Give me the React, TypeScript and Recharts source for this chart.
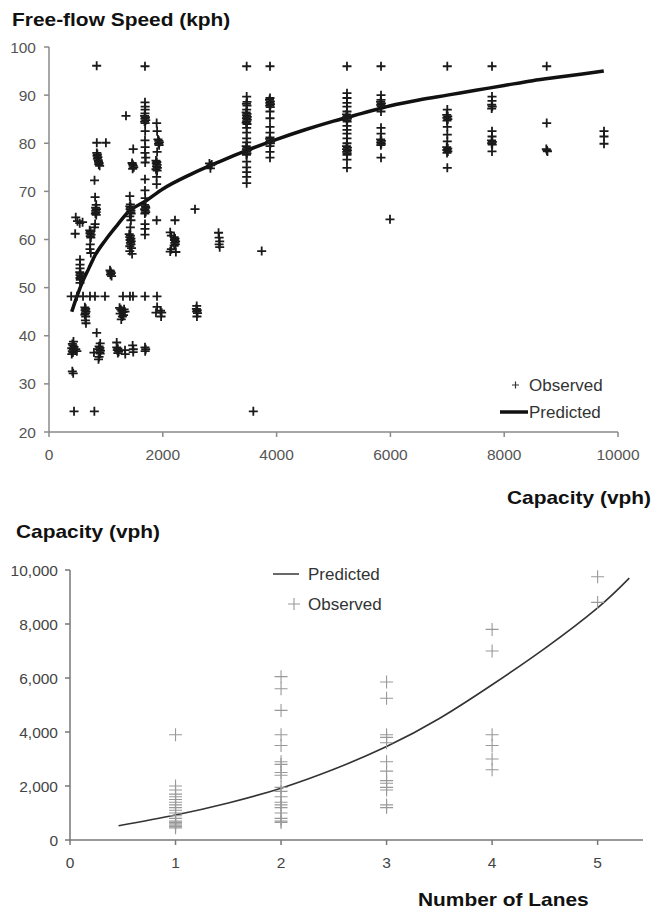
import { ComposedChart, Scatter, Line, XAxis, YAxis } from 'recharts';

// Free-flow speed vs capacity: observed [capacity vph, speed kph]
const speedObserved: [number, number][] = [
  // ~400 vph
  [400, 36.2], [420, 36.5], [410, 36.8], [430, 37.1], [400, 37.4], [440, 37.7], [420, 38], [410, 38.3], [430, 38.8], [490, 36.8], [470, 37.2],
  [410, 32.6], [425, 32.2], [440, 24.3], [390, 48.2],
  [460, 61.2], [470, 64.6], [500, 63.8], [540, 63.4], [590, 63.6],
  // ~550 vph
  [545, 55.8], [545, 54.8], [545, 54], [540, 53.2], [555, 52.9], [545, 52.6], [560, 52.3], [545, 52], [550, 51.6], [545, 51],
  [492, 48.2], [598, 48.2],
  // ~640 vph
  [630, 45.9], [645, 45.6], [635, 45.3], [650, 45], [640, 44.7], [630, 44.4], [645, 44], [640, 43.2], [650, 42.6],
  // ~720 vph
  [715, 61.9], [730, 61.6], [720, 61.3], [740, 61], [725, 60.7], [735, 60.4], [725, 59], [720, 58], [735, 57.2],
  [720, 48.2], [808, 48.2], [838, 96.1],
  // ~830 vph
  [800, 72.3], [810, 68.8], [830, 67.2], [820, 66.6], [835, 66.3], [820, 66], [830, 65.7], [815, 65.4], [830, 65.1], [810, 63.2], [800, 62.5],
  [840, 78], [850, 77.7], [845, 77.4], [860, 77.1], [850, 76.8], [865, 76.5], [870, 76.2], [880, 75.9], [875, 75.6], [890, 75.3],
  [840, 80.1], [1000, 80.1],
  [838, 40.6], [790, 36.5], [880, 37.8], [895, 37.5], [885, 37.2], [905, 36.9], [890, 36.6], [900, 36.3], [880, 35.6], [870, 35.1], [900, 38.4],
  [797, 24.3], [984, 48.2],
  // ~1100 vph
  [1072, 53.6], [1085, 53.3], [1095, 53], [1080, 52.7], [1100, 52.4],
  [1190, 37.6], [1210, 37.3], [1200, 37], [1225, 36.7], [1210, 36.4], [1190, 38.6],
  [1240, 45.8], [1260, 45.5], [1280, 45.2], [1300, 44.9], [1320, 45.5], [1250, 44.6], [1310, 44.3], [1335, 45], [1290, 44], [1270, 43.4],
  [1300, 48.2], [1336, 37], [1340, 36.2], [1482, 37.2], [1470, 38], [1480, 36.6], [1353, 85.7],
  [1423, 48.2], [1476, 48.2],
  // ~1450 vph
  [1480, 78.8], [1460, 75.9], [1470, 75.6], [1480, 75.3], [1490, 75], [1470, 74.7],
  [1420, 69], [1430, 67.3], [1420, 66.9], [1435, 66.6], [1425, 66.3], [1440, 66], [1430, 65.7], [1445, 65.4], [1420, 64.8], [1440, 64], [1430, 62.5],
  [1410, 61.1], [1430, 60.8], [1420, 60.5], [1440, 60.2], [1425, 59.9], [1445, 59.6], [1430, 59.3], [1440, 59], [1420, 58.6], [1450, 58.2], [1420, 57.6], [1460, 57],
  // ~1690 vph
  [1687, 96], [1687, 88.5], [1690, 87.6], [1690, 87], [1687, 86.2], [1680, 85.7], [1695, 85.4], [1685, 85.1], [1700, 84.8], [1680, 84.5], [1690, 84.2],
  [1690, 82.5], [1687, 80.6], [1690, 79.2], [1687, 78], [1700, 77], [1690, 76], [1687, 72.5], [1687, 70.2], [1690, 68.6],
  [1680, 67.2], [1695, 66.9], [1700, 66.6], [1680, 66.3], [1690, 66], [1700, 65.7], [1685, 65.4], [1687, 63.2], [1687, 62.2], [1687, 61],
  [1687, 48.2], [1687, 37.6], [1700, 37.2], [1690, 36.8],
  // ~1900 vph
  [1892, 84.2], [1900, 82.5], [1915, 80.8], [1930, 80.5], [1940, 80.2], [1925, 79.9], [1935, 79.6], [1900, 78.2],
  [1880, 76.4], [1895, 76.1], [1885, 75.8], [1900, 75.5], [1890, 75.2], [1905, 74.9], [1880, 74.6], [1900, 74.3],
  [1892, 73], [1892, 71.5], [1892, 64], [1898, 48.2],
  [1900, 46], [1960, 45.2], [1980, 44.8], [1970, 44], [1880, 44.8],
  // ~2200 vph
  [2130, 61.5], [2150, 60.8], [2200, 60.5], [2215, 60.2], [2205, 59.9], [2225, 59.6], [2210, 59.3], [2220, 59], [2200, 58.7], [2150, 58],
  [2130, 57.5], [2214, 64], [2230, 57.4],
  // ~2600 vph
  [2566, 66.3], [2590, 45.6], [2605, 45.3], [2595, 45], [2610, 44.7], [2596, 46.2], [2600, 44],
  [2820, 75.8], [2840, 75.4], [2860, 75.6], [2837, 74.8],
  [2980, 61.4], [2990, 60.4], [3000, 59.6], [2990, 59], [3000, 58.4],
  // ~3500 vph
  [3474, 96], [3474, 89.7], [3480, 88.6], [3470, 88.2], [3480, 87.8], [3474, 87],
  [3465, 86.4], [3480, 86.1], [3470, 85.8], [3485, 85.5], [3470, 85.2], [3485, 84.9], [3475, 84.6], [3465, 84.3], [3480, 84],
  [3474, 83.2], [3474, 82.2], [3474, 81], [3474, 80.2],
  [3465, 79.4], [3480, 79.1], [3470, 78.8], [3485, 78.5], [3470, 78.2], [3480, 77.9], [3470, 77.6],
  [3474, 76.2], [3474, 75], [3474, 74], [3474, 73], [3474, 71.7],
  [3591, 24.3], [3738, 57.6],
  // ~3900 vph
  [3884, 96], [3884, 89.4], [3875, 89], [3890, 88.7], [3880, 88.4], [3892, 88.1], [3878, 87.8], [3888, 87.5], [3884, 86.6], [3884, 85.2],
  [3884, 83.4], [3884, 82.2], [3884, 81.2], [3878, 80.9], [3890, 80.6], [3880, 80.3], [3892, 80], [3884, 79.4], [3884, 78.2], [3884, 77],
  // ~5200 vph
  [5237, 96], [5237, 90.4], [5237, 89.4], [5237, 88.4], [5237, 87.6], [5237, 86.6],
  [5228, 86], [5245, 85.7], [5230, 85.4], [5245, 85.1], [5232, 84.8], [5240, 84.5], [5237, 83.6], [5237, 82.8], [5237, 82], [5237, 81], [5237, 80],
  [5228, 79.4], [5245, 79.1], [5230, 78.8], [5245, 78.5], [5232, 78.2], [5240, 77.9], [5237, 77.6], [5237, 76.6], [5237, 74.9],
  // ~5800 vph
  [5835, 96], [5835, 90], [5835, 89], [5828, 88.6], [5842, 88.3], [5830, 88], [5840, 87.7], [5835, 86.6], [5835, 83.2],
  [5835, 82], [5828, 80.8], [5842, 80.5], [5830, 80.2], [5840, 79.9], [5832, 79.6], [5835, 77],
  [5993, 64.2],
  // ~7000 vph
  [7000, 96], [7000, 87], [6990, 85.9], [7008, 85.6], [6992, 85.3], [7010, 85], [6995, 84.7], [7000, 83.4], [7000, 81.8],
  [7000, 80.4], [6990, 79.2], [7008, 78.9], [6992, 78.6], [7010, 78.3], [6995, 78], [7000, 74.9],
  // ~7800 vph
  [7786, 96], [7786, 89.7], [7786, 88.8], [7780, 88], [7790, 87.6], [7780, 87.2], [7786, 82.5], [7786, 81.4],
  [7778, 80.6], [7792, 80.3], [7780, 80], [7790, 79.7], [7786, 78.3],
  [8747, 96], [8747, 84.2], [8740, 78.8], [8752, 78.5], [8760, 78.3],
  [9754, 82.5], [9754, 81.4], [9754, 79.9],
];

// predicted free-flow speed curve
const speedCurveCap = [400, 500, 600, 700, 800, 1000, 1200, 1400, 1700, 2000, 2500, 3000, 3500, 4000, 4500, 5000, 5500, 6000, 6500, 7000, 7500, 8000, 8500, 9000, 9750];
const speedCurveKph = [45, 48.5, 51.5, 54, 56.5, 60, 63, 65.8, 68, 70.5, 73.6, 76.2, 78.6, 80.8, 82.8, 84.6, 86.2, 87.8, 89, 90, 91, 92, 93, 93.8, 95];

const speedXTicks = [0, 2000, 4000, 6000, 8000, 10000];
const speedYTicks = [20, 30, 40, 50, 60, 70, 80, 90, 100];

// Capacity vs number of lanes
const lanes1 = [3900, 2000, 1850, 1700, 1600, 1500, 1400, 1300, 1200, 1100, 1000, 900, 800, 700, 650, 600, 550, 500, 450];
const lanes2 = [6050, 5600, 4800, 3900, 3500, 2900, 2800, 2500, 2400, 1950, 1800, 1600, 1400, 1300, 1200, 1000, 800, 700, 650];
const lanes3 = [5850, 5250, 3900, 3800, 3600, 2900, 2550, 2200, 2100, 1950, 1850, 1300, 1200];
const lanes4 = [7800, 7000, 3900, 3500, 3000, 2600];
const lanes5 = [9750, 8800];

const laneCurveX = [0.46, 1, 1.5, 2, 2.5, 3, 3.5, 4, 4.5, 5, 5.3];
const laneCurveCap = [530, 925, 1370, 1920, 2620, 3460, 4500, 5750, 7100, 8600, 9700];

const laneXTicks = [0, 1, 2, 3, 4, 5];
const laneYTicks = [0, 2000, 4000, 6000, 8000, 10000];

const FONT = '"Liberation Sans", Arial, sans-serif';

const speedPoints = speedObserved.map(([x, y]) => ({ x, y }));
const speedCurve = speedCurveCap.map((x, i) => ({ x, y: speedCurveKph[i] }));
const lanePoints = [lanes1, lanes2, lanes3, lanes4, lanes5].flatMap((caps, i) =>
  caps.map((y) => ({ x: i + 1, y }))
);
const laneCurve = laneCurveX.map((x, i) => ({ x, y: laneCurveCap[i] }));

function plusShape(size: number, width: number, color: string) {
  return (props: any) => {
    const { cx, cy } = props;
    if (cx == null || cy == null) return <g />;
    const h = size / 2;
    return (
      <path
        d={`M${cx - h},${cy}H${cx + h}M${cx},${cy - h}V${cy + h}`}
        stroke={color}
        strokeWidth={width}
        fill="none"
      />
    );
  };
}

const fmtThousands = (v: number) => v.toLocaleString('en-US');

const boldTitle = (text: string, left: number, top: number) => (
  <div
    style={{
      position: 'absolute',
      left,
      top,
      fontFamily: FONT,
      fontWeight: 'bold',
      fontSize: 19,
      color: '#111',
      whiteSpace: 'nowrap',
      transform: 'scaleX(1.1)',
      transformOrigin: 'left top',
    }}
  >
    {text}
  </div>
);

export default function App() {
  return (
    <div style={{ position: 'absolute', left: 0, top: 0, width: 663, height: 913, background: '#fff', overflow: 'hidden' }}>
      {boldTitle('Free-flow Speed (kph)', 12, 9)}

      <div style={{ position: 'absolute', left: 0, top: 0 }}>
        <ComposedChart width={663} height={480} margin={{ top: 47, right: 45, bottom: 18, left: 9 }}>
          <XAxis
            type="number"
            dataKey="x"
            domain={[0, 10000]}
            ticks={speedXTicks}
            allowDataOverflow
            axisLine={{ stroke: '#8a8a8a', strokeWidth: 1.5 }}
            tickLine={{ stroke: '#8a8a8a', strokeWidth: 1.5 }}
            tickSize={5}
            tickMargin={12}
            tick={{ fill: '#555', fontSize: 15.5, fontFamily: FONT }}
            height={30}
          />
          <YAxis
            type="number"
            dataKey="y"
            domain={[20, 100]}
            ticks={speedYTicks}
            allowDataOverflow
            axisLine={{ stroke: '#8a8a8a', strokeWidth: 1.5 }}
            tickLine={{ stroke: '#8a8a8a', strokeWidth: 1.5 }}
            tickSize={5}
            tickMargin={8}
            tick={{ fill: '#555', fontSize: 15.5, fontFamily: FONT }}
            width={40}
          />
          <Scatter data={speedPoints} shape={plusShape(9, 1.8, '#1a1a1a')} isAnimationActive={false} />
          <Line
            data={speedCurve}
            dataKey="y"
            type="monotone"
            stroke="#111"
            strokeWidth={3.5}
            dot={false}
            isAnimationActive={false}
          />
        </ComposedChart>
      </div>

      {/* top legend */}
      <svg style={{ position: 'absolute', left: 0, top: 0 }} width={663} height={480}>
        <path d="M512,385H519M515.5,381.5V388.5" stroke="#333" strokeWidth={1.2} />
        <text x={529} y={390.5} fontFamily={FONT} fontSize={17} fill="#333">Observed</text>
        <path d="M500,412H528" stroke="#111" strokeWidth={3.5} />
        <text x={529} y={418} fontFamily={FONT} fontSize={17} fill="#333">Predicted</text>
      </svg>

      {boldTitle('Capacity (vph)', 507, 487)}
      {boldTitle('Capacity (vph)', 16, 521)}

      <div style={{ position: 'absolute', left: 0, top: 480 }}>
        <ComposedChart width={663} height={433} margin={{ top: 90, right: 20, bottom: 43, left: 10 }}>
          <XAxis
            type="number"
            dataKey="x"
            domain={[0, 5.43]}
            ticks={laneXTicks}
            allowDataOverflow
            axisLine={{ stroke: '#777', strokeWidth: 1.5 }}
            tickLine={{ stroke: '#777', strokeWidth: 1.5 }}
            tickSize={5}
            tickMargin={12}
            tick={{ fill: '#444', fontSize: 15.5, fontFamily: FONT }}
            height={30}
          />
          <YAxis
            type="number"
            dataKey="y"
            domain={[0, 10000]}
            ticks={laneYTicks}
            tickFormatter={fmtThousands}
            allowDataOverflow
            axisLine={{ stroke: '#777', strokeWidth: 1.5 }}
            tickLine={{ stroke: '#777', strokeWidth: 1.5 }}
            tickSize={5}
            tickMargin={7}
            tick={{ fill: '#444', fontSize: 15.5, fontFamily: FONT }}
            width={60}
          />
          <Scatter data={lanePoints} shape={plusShape(13, 1.1, '#999')} isAnimationActive={false} />
          <Line
            data={laneCurve}
            dataKey="y"
            type="natural"
            stroke="#333"
            strokeWidth={1.6}
            dot={false}
            isAnimationActive={false}
          />
        </ComposedChart>
      </div>

      {/* bottom legend */}
      <svg style={{ position: 'absolute', left: 0, top: 480 }} width={663} height={433}>
        <path d="M273,94H299" stroke="#444" strokeWidth={1.6} />
        <text x={308} y={100} fontFamily={FONT} fontSize={17} fill="#333">Predicted</text>
        <path d="M288,124H300M294,118V130" stroke="#999" strokeWidth={1.1} />
        <text x={308} y={130} fontFamily={FONT} fontSize={17} fill="#333">Observed</text>
      </svg>

      {boldTitle('Number of Lanes', 418, 889)}
    </div>
  );
}
